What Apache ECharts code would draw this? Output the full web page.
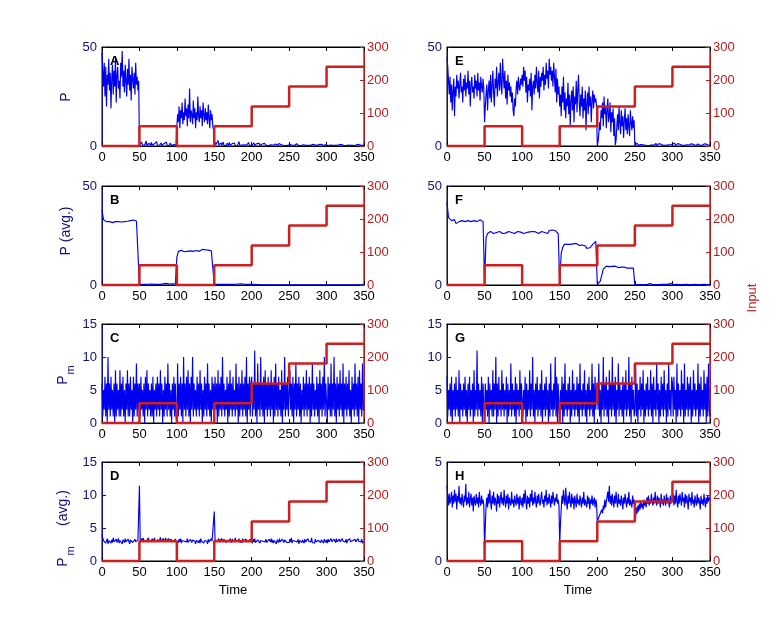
<!DOCTYPE html>
<html>
<head>
<meta charset="utf-8">
<script src="https://cdn.jsdelivr.net/npm/echarts@6/dist/echarts.min.js"></script>
<style>html,body{margin:0;padding:0;background:#fff;}#c{width:784px;height:631px;}</style>
</head>
<body>
<div id="c"></div>
<script>
// ---- Data: each series is sampled evenly over t = 0..350 ----
const T_END = 350;
const xTicks = [0, 50, 100, 150, 200, 250, 300, 350];
const inputTime = [0, 50, 100, 150, 200, 250, 300, 350];
const inputValue = [0, 60, 0, 60, 120, 180, 240, 240];

// A: P (1 sample per time unit)
const pA = [
47,38,30,42,25,40,20,36,31,44,28,37,19,34,41,26,38,30,45,22,36,40,29,33,24,42,35,48,30,38,27,41,33,25,39,31,44,28,36,23,40,34,29,37,26,42,31,35,28,33,
0.5,1.2,0.3,2.0,0.6,0.2,1.5,0.4,0.8,2.5,0.3,0.9,0.2,1.4,0.5,0.3,1.8,0.4,0.7,0.2,1.1,0.3,0.6,2.2,0.4,0.2,1.0,0.5,0.3,1.6,0.2,0.8,0.4,1.3,0.3,0.6,2.0,0.2,0.9,0.4,0.3,1.5,0.5,0.2,1.1,0.4,0.7,0.3,1.2,0.5,
10,16,12,20,9,18,14,22,11,17,13,24,15,19,10,21,14,29,12,18,16,11,23,14,19,9,17,13,25,15,12,20,14,18,10,22,16,12,19,13,17,11,21,14,9,18,13,16,10,8,
0.4,2.0,0.6,1.2,0.3,2.8,0.5,1.0,0.2,1.6,0.4,0.8,2.0,0.3,1.1,0.5,0.2,1.4,0.6,0.3,1.8,0.4,0.9,0.2,1.2,0.5,0.3,1.5,0.2,0.7,1.0,0.3,0.6,2.2,0.4,0.2,0.9,0.5,1.3,0.3,0.6,0.2,1.1,0.4,0.8,0.3,1.7,0.2,0.5,1.0,
0.3,1.0,0.2,1.6,0.4,0.7,0.2,1.2,0.5,0.3,1.4,0.2,0.8,0.3,1.0,0.2,0.6,1.3,0.3,0.5,0.2,1.1,0.4,0.3,0.9,0.2,0.6,1.2,0.3,0.4,0.8,0.2,1.0,0.3,0.5,0.2,1.3,0.4,0.3,0.7,0.2,0.9,0.4,0.3,1.1,0.2,0.5,0.8,0.3,0.4,
0.2,0.8,0.3,1.2,0.4,0.2,0.9,0.3,0.6,0.2,1.1,0.3,0.5,0.2,0.8,0.4,0.2,1.0,0.3,0.6,0.2,0.7,0.3,0.2,0.9,0.4,0.2,1.1,0.3,0.5,0.2,0.8,0.4,0.3,0.6,0.2,1.0,0.3,0.4,0.2,0.7,0.3,0.5,0.9,0.2,0.4,0.3,0.8,0.2,0.6,
0.3,0.6,0.2,1.0,0.3,0.5,0.2,0.8,0.3,0.2,0.7,0.4,0.2,0.9,0.3,0.5,0.2,0.6,0.3,0.2,0.8,0.3,0.5,0.2,0.7,0.4,0.2,0.9,0.3,0.5,0.2,0.6,0.3,1.0,0.2,0.4,0.3,0.7,0.2,0.5,0.3,0.8,0.2,0.4,0.6,0.2,0.9,0.3,0.5,0.2,
0.4];

// B: P (avg.) (1 sample per 2 time units)
const pB = [
38,33,32.5,32,33,32,32.5,31.5,32.5,32,33,32,32.5,31.8,32.6,32,33,32.2,31.8,32.5,32,32.8,32,32.3,31.5,
0.2,0.8,0.4,0.6,0.3,0.7,0.4,0.6,0.5,0.8,0.3,0.6,0.4,0.7,0.3,0.5,0.6,0.4,0.8,0.3,0.5,0.4,0.6,0.3,0.5,
14,17,16.5,17.5,17,16.8,17.5,17,18,17.2,17.6,17,18,17.4,17.8,17,17.6,18,17.3,17.8,17.2,17.6,17,17.3,16.8,
0.3,0.6,0.4,0.5,0.3,0.7,0.4,0.5,0.3,0.6,0.4,0.5,0.3,0.6,0.4,0.3,0.5,0.4,0.6,0.3,0.4,0.5,0.3,0.4,0.3,
0.2,0.3,0.1,0.2,0.1,0.2,0.1,0.1,0.2,0.1,0.1,0.1,0.2,0.1,0.1,0.1,0.1,0.1,0.1,0.1,0.1,0.1,0.1,0.1,0.1,
0.05,0.05,0.05,0.05,0.05,0.05,0.05,0.05,0.05,0.05,0.05,0.05,0.05,0.05,0.05,0.05,0.05,0.05,0.05,0.05,0.05,0.05,0.05,0.05,0.05,
0.05,0.05,0.05,0.05,0.05,0.05,0.05,0.05,0.05,0.05,0.05,0.05,0.05,0.05,0.05,0.05,0.05,0.05,0.05,0.05,0.05,0.05,0.05,0.05,0.05,
0.05];

// C: Pm (1 sample per time unit)
const pC = [
6,1,5,2,7,1,6,0,10,2,6,1,7,2,5,1,6,0,8,1,6,2,5,1,8,1,6,2,7,1,5,0,6,2,8,1,6,1,7,2,5,0,7,1,6,2,9,1,6,2,
6,1,7,2,5,1,6,0,7,2,8,1,6,2,5,1,6,1,7,0,5,2,6,1,7,2,6,1,8,2,6,0,5,1,7,2,6,1,9,2,6,1,5,0,6,2,7,1,6,1,
0,9,1,6,2,7,1,6,0,10,2,6,1,7,2,8,1,6,0,7,2,10,1,6,2,5,1,7,2,6,1,8,2,6,0,5,1,7,2,6,1,9,2,6,1,5,0,7,2,6,
1,7,2,6,0,8,1,6,2,7,1,10,2,6,1,5,2,7,0,6,1,8,2,6,1,7,2,5,1,9,2,6,0,7,1,6,2,8,1,6,2,7,1,10,0,6,2,7,1,6,
7,1,6,2,11,1,6,0,9,2,6,1,10,2,6,1,7,0,8,2,6,1,7,2,6,1,8,2,6,0,7,1,9,2,6,1,7,2,5,1,8,0,6,2,10,1,6,2,7,1,
1,8,2,6,1,7,0,6,2,9,1,6,2,7,1,6,0,5,2,7,1,6,2,8,1,6,2,7,0,6,1,9,2,6,1,5,2,7,1,6,0,8,2,6,1,7,2,10,1,6,
6,0,7,2,6,1,9,1,6,2,10,1,6,0,7,2,6,1,8,2,6,1,9,0,6,2,7,1,6,2,8,1,5,0,7,2,6,1,9,2,6,1,7,0,8,2,6,1,9,2,
2];

// D: Pm (avg.) (1 sample per time unit)
const pD = [
4.0,3.5,3.1,2.8,3.3,2.7,3.0,3.4,2.6,3.1,2.9,3.3,2.7,3.2,2.8,3.5,2.9,3.1,2.6,3.3,2.8,3.0,3.4,2.7,3.1,2.9,3.3,2.6,3.2,3.0,2.8,3.4,2.9,3.1,2.7,3.3,3.0,2.6,3.2,2.9,3.4,2.8,3.1,2.7,3.3,2.9,3.0,2.6,3.2,2.9,
11.4,3.3,2.9,3.4,3.0,3.5,3.1,2.8,3.4,3.0,3.3,2.9,3.5,3.1,2.8,3.3,3.0,3.4,2.9,3.2,3.5,3.0,3.3,2.8,3.2,3.4,2.9,3.1,3.6,3.0,3.3,2.8,3.4,3.1,2.9,3.5,3.0,3.2,2.8,3.4,3.1,2.9,3.3,3.0,3.5,2.9,3.2,3.0,3.3,2.9,
2.7,3.2,2.8,3.3,2.9,3.4,2.7,3.1,2.8,3.3,3.0,2.7,3.2,2.9,3.4,2.8,3.1,2.7,3.3,3.0,2.8,3.2,2.9,3.4,3.0,2.6,3.1,2.9,3.3,2.8,3.2,2.7,3.4,3.0,2.9,3.3,2.7,3.1,2.8,3.2,3.0,2.6,3.3,2.9,3.1,2.8,3.4,3.0,2.7,3.1,
7.5,3.2,2.9,3.3,3.0,2.7,3.4,3.0,3.2,2.8,3.4,3.1,2.9,3.3,3.0,3.5,2.8,3.2,3.0,3.3,2.9,3.4,3.1,2.8,3.3,3.0,3.2,2.9,3.5,3.1,2.8,3.3,3.0,3.4,2.9,3.2,3.1,2.8,3.4,3.0,3.2,2.9,3.3,3.1,3.5,2.9,3.2,3.0,3.3,3.1,
3.0,2.7,3.3,2.9,3.4,2.8,3.1,2.6,3.2,2.9,3.3,2.7,3.1,2.8,3.4,3.0,2.7,3.2,2.9,3.3,2.8,3.1,2.7,3.3,3.0,2.9,3.4,2.8,3.2,2.7,3.1,2.9,3.3,2.6,3.2,3.0,2.8,3.4,2.9,3.1,2.7,3.3,3.0,2.8,3.2,2.9,3.5,2.8,3.1,3.0,
2.8,3.3,2.9,3.5,2.7,3.1,2.8,3.4,3.0,2.7,3.2,2.9,3.3,2.6,3.1,2.9,3.4,2.8,3.2,3.0,2.7,3.3,2.9,3.1,2.8,3.4,3.0,2.7,3.2,2.9,3.5,2.8,3.1,3.0,2.7,3.3,2.9,3.2,2.6,3.1,3.0,3.4,2.8,3.2,2.9,3.1,2.7,3.3,3.0,2.8,
3.2,2.7,3.3,2.9,3.1,2.6,3.4,2.9,3.2,2.7,3.3,3.0,2.8,3.4,2.9,3.1,2.6,3.3,2.9,3.2,2.7,3.4,3.0,2.8,3.2,2.9,3.3,2.7,3.1,3.0,2.8,3.4,2.9,3.2,2.6,3.1,3.0,2.8,3.3,2.9,3.1,2.7,3.4,3.0,2.8,3.2,2.9,3.3,2.7,3.0,
2.9];

// E: P (1 sample per time unit)
const pE = [
45,40,33,26,35,22,31,18,28,34,15,30,25,36,29,33,24,31,37,27,30,22,34,28,36,25,32,29,38,26,33,20,31,35,27,30,24,36,29,33,25,37,28,32,23,35,30,27,34,29,
12,20,26,31,18,28,33,24,36,22,30,38,27,20,34,29,40,25,32,37,28,42,31,26,44,35,29,38,24,33,21,36,28,32,25,30,22,27,18,15,24,20,29,33,26,35,30,28,34,31,
36,30,40,33,38,27,35,22,31,28,34,25,37,18,30,33,26,36,29,40,32,27,38,24,35,30,37,33,40,28,36,31,42,34,38,29,44,36,40,33,38,30,42,35,27,39,22,34,26,30,
20,26,15,30,22,35,18,27,14,24,20,32,16,26,10,23,28,18,30,12,25,21,33,17,28,36,22,15,26,20,30,14,24,18,28,8,22,27,16,30,20,25,12,23,28,19,26,22,24,20,
0.5,2,6,12,8,18,14,22,10,25,16,20,9,18,24,12,15,22,7,17,12,19,5,14,0.5,3,10,16,8,20,12,6,18,10,15,4,13,19,8,14,6,16,10,5,18,12,8,15,9,13,
0.3,0.8,0.2,1.4,0.5,0.3,1.0,0.2,0.7,1.5,0.3,0.6,0.2,1.2,0.4,0.3,0.9,0.2,1.1,0.5,0.3,1.3,0.2,0.6,0.4,1.0,0.3,0.5,1.4,0.2,0.7,0.3,1.2,0.4,0.2,0.9,0.5,1.3,0.3,0.2,0.8,0.4,1.0,0.3,0.6,1.2,0.2,0.5,0.9,0.3,
1.0,0.3,0.5,1.4,0.2,0.7,0.3,1.2,0.4,0.2,0.9,0.5,1.3,0.3,0.2,0.8,0.4,1.0,0.3,0.6,1.2,0.2,0.5,0.9,0.3,1.1,0.4,0.2,0.8,0.5,1.3,0.3,0.6,0.2,1.0,0.4,0.7,0.3,1.2,0.2,0.5,0.9,0.3,1.1,0.4,0.2,0.8,0.6,1.0,0.3,
0.6];

// F: P (avg.) (1 sample per 2 time units)
const pF = [
42,34,33,32.5,32,33,31,30.5,32,33,32.5,33.5,32,33,32.5,33,32,33,32.5,33,32,32.5,33,32.5,32,
2,24,26,26.5,27,26.5,26,27,26.5,26,27,26.5,26,26.8,26.2,26.5,27,26,26.5,26.8,26,26.5,27,26.2,26.7,
26.5,26,27,26.5,26,26.8,26.2,27,26.5,26.8,26.3,26,26.5,27,26,26.5,26.8,26,27.5,26.5,27.8,27,27.5,26.5,26,
1,16,19,20.5,21,20.5,21,20.5,21.2,20.8,20,21,20.5,20,20.8,20.2,19.5,19.8,18.5,19.5,18.8,19.5,20.5,21,22,
0.3,0.5,2,5,8,9,9.5,10,9.3,9.8,9.4,9,9.5,9.2,8.8,9.3,9,8.6,9,8.8,8.5,8.9,8.6,8.8,8.5,
0.2,0.3,0.2,0.3,0.2,0.3,0.2,0.3,0.2,0.3,0.8,0.3,0.2,0.3,0.2,0.3,0.2,0.2,0.3,0.2,0.3,0.2,0.3,0.2,0.8,
0.3,0.2,0.2,0.3,0.2,0.2,0.3,0.2,0.2,0.3,0.2,0.2,0.3,0.2,0.2,0.3,0.2,0.2,0.3,0.2,0.2,0.3,0.2,0.2,0.3,
0.2];

// G: Pm (1 sample per time unit)
const pG = [
7,1,5,2,6,1,7,0,5,2,6,1,7,2,5,1,8,0,6,2,5,1,6,2,7,1,5,0,6,2,7,1,5,2,6,0,8,1,5,2,11,1,6,2,5,1,7,0,6,2,
1,6,2,5,1,7,0,6,2,5,1,8,1,6,2,10,0,6,1,7,2,5,1,8,2,6,1,5,2,7,0,6,1,5,2,9,1,6,2,5,1,7,0,6,2,5,1,8,2,6,
6,1,5,2,7,0,6,1,5,2,8,1,6,2,10,1,5,0,6,2,7,1,5,2,6,1,8,0,5,2,6,1,7,2,5,0,6,1,9,2,5,1,6,2,10,1,7,0,6,2,
1,5,2,7,0,6,1,9,2,5,1,6,2,7,0,5,1,8,2,6,1,5,2,7,1,6,0,9,2,5,1,6,2,8,1,5,0,6,2,7,1,5,2,9,1,6,0,7,2,5,
6,2,9,1,5,0,6,2,10,1,6,2,7,1,5,0,8,2,6,1,10,2,6,1,7,0,5,2,9,1,6,2,5,1,7,0,6,2,8,1,5,2,10,1,6,0,7,2,5,1,
2,9,1,6,0,5,2,7,1,6,2,8,0,5,1,6,2,7,1,5,2,8,1,6,0,7,2,5,1,9,2,6,0,5,1,7,2,6,1,8,2,5,0,6,1,9,2,5,1,7,
6,1,7,2,5,0,9,1,6,2,5,1,8,2,6,0,9,1,5,2,7,1,6,2,7,0,5,1,8,2,6,1,5,2,9,0,6,1,7,2,5,1,8,2,6,0,7,1,9,2,
1];

// H: Pm (avg.) (1 sample per time unit)
const pH = [
3.8,3.3,2.8,3.4,2.9,3.1,3.5,2.7,3.3,2.9,3.6,3.0,3.4,2.6,3.3,3.0,3.8,2.9,3.2,2.8,3.4,3.0,2.7,3.3,3.0,3.9,2.8,3.2,2.9,3.5,2.7,3.1,3.4,2.8,3.2,2.5,3.3,3.0,2.8,3.4,2.9,3.2,2.7,3.5,3.0,2.8,3.3,2.9,3.1,2.8,
0.6,1.8,2.8,3.2,2.7,3.4,2.9,3.6,3.0,2.6,3.3,2.9,3.5,2.8,3.2,3.0,2.5,3.4,2.9,3.3,2.7,3.1,3.5,2.9,3.2,2.8,3.6,3.0,2.7,3.3,2.9,3.4,2.6,3.2,3.0,2.8,3.5,2.9,3.1,2.7,3.3,3.0,2.8,3.4,2.9,3.2,2.6,3.3,3.0,2.8,
3.2,2.7,3.4,2.9,3.6,3.0,2.6,3.3,2.9,3.2,2.7,3.4,3.0,3.6,2.8,3.2,2.9,3.5,3.0,2.7,3.3,2.9,3.4,3.0,2.8,3.2,3.5,2.9,3.1,2.7,3.3,3.0,3.6,2.8,3.2,2.9,3.4,3.0,2.7,3.3,2.9,3.5,3.1,2.8,3.2,3.0,3.4,2.9,3.1,2.8,
0.8,1.9,2.6,3.3,2.9,3.6,3.1,2.8,3.7,3.0,2.6,3.3,2.9,3.5,3.0,2.7,3.4,2.9,3.2,2.6,3.3,3.0,2.7,3.4,2.9,3.1,2.8,3.3,3.0,2.7,3.2,2.9,3.5,2.8,3.1,3.0,2.7,3.3,2.9,3.2,2.6,3.1,2.9,3.3,2.8,3.0,3.2,2.7,3.1,2.9,
2.0,1.9,2.2,2.1,2.4,2.3,2.6,2.4,2.8,2.6,3.1,2.7,3.0,2.9,3.5,3.0,3.8,2.9,3.3,2.8,3.4,3.0,2.7,3.3,2.9,3.5,3.0,2.7,3.4,2.9,3.1,2.8,3.3,3.0,2.6,3.2,2.9,3.4,3.0,2.7,3.2,2.9,3.5,2.8,3.1,3.0,2.7,3.3,2.9,3.1,
2.5,2.2,2.7,2.4,2.8,2.5,2.9,2.6,3.0,2.7,2.9,2.6,3.1,2.8,3.0,2.7,3.2,2.9,3.3,2.8,3.1,2.9,3.4,3.0,2.8,3.2,2.9,3.5,3.0,2.8,3.3,2.9,3.2,3.0,2.7,3.4,2.9,3.1,2.8,3.3,3.0,2.8,3.4,2.9,3.2,3.0,2.7,3.3,2.9,3.1,
3.0,3.4,2.8,3.3,2.9,3.6,3.0,2.7,3.3,2.9,3.4,3.1,2.8,3.5,3.0,3.2,2.7,3.4,2.9,3.3,3.0,2.6,3.4,3.0,3.2,2.8,3.5,2.9,3.1,2.7,3.3,3.0,2.8,3.4,2.9,3.2,3.0,2.6,3.3,2.9,3.1,2.8,3.4,3.0,2.7,3.2,2.9,3.3,3.0,3.2,
3.1];

const panelLetters = ['A','B','C','D','E','F','G','H'];
const leftAxisMax = [50, 50, 15, 15, 50, 50, 15, 5];
const leftAxisInterval = [50, 50, 5, 5, 50, 50, 5, 5];
const rightAxisMax = 300;
const rightAxisInterval = 100;
const panelData = [pA, pB, pC, pD, pE, pF, pG, pH];

// ---- Layout / style ----
const colLeft = [102, 447];
const colWidth = [262, 263];
const rowTop = [47, 186, 324, 462];
const plotH = 99;
const BLUE = '#0000f0';
const NAVY = '#10107a';
const RED = '#cc2020';
const DARKRED = '#b01e1e';
const FONT = 'Liberation Sans, Arial, sans-serif';

const grids = [], xAxes = [], yAxes = [], series = [], graphics = [];

panelData.forEach((arr, i) => {
  const col = i < 4 ? 0 : 1;
  const row = i % 4;
  const dt = T_END / (arr.length - 1);
  grids.push({left: colLeft[col], top: rowTop[row], width: colWidth[col], height: plotH,
    show: true, borderColor: '#000', borderWidth: 1, backgroundColor: 'transparent'});
  const xBase = {gridIndex: i, type: 'value', min: xTicks[0], max: xTicks[xTicks.length - 1], interval: 50,
    axisLine: {onZero: false, lineStyle: {color: '#000', width: 1}},
    axisTick: {inside: true, length: 4, lineStyle: {color: '#000'}},
    splitLine: {show: false}};
  xAxes.push(Object.assign({}, xBase, {position: 'bottom',
    axisLabel: {color: '#000', fontSize: 13, fontFamily: FONT, margin: 5}}));
  xAxes.push(Object.assign({}, xBase, {position: 'top', axisLabel: {show: false}}));
  yAxes.push({gridIndex: i, type: 'value', position: 'left', min: 0, max: leftAxisMax[i], interval: leftAxisInterval[i],
    axisLine: {show: true, onZero: false, lineStyle: {color: NAVY, width: 1}},
    axisTick: {show: true, inside: true, length: 4, lineStyle: {color: NAVY}},
    axisLabel: {color: NAVY, fontSize: 13, fontFamily: FONT, margin: 5},
    splitLine: {show: false}});
  yAxes.push({gridIndex: i, type: 'value', position: 'right', min: 0, max: rightAxisMax, interval: rightAxisInterval,
    axisLine: {show: true, onZero: false, lineStyle: {color: DARKRED, width: 1}},
    axisTick: {show: true, inside: true, length: 4, lineStyle: {color: DARKRED}},
    axisLabel: {color: DARKRED, fontSize: 13, fontFamily: FONT, margin: 3},
    splitLine: {show: false}});
  series.push({type: 'line', xAxisIndex: 2 * i, yAxisIndex: 2 * i, showSymbol: false, silent: true,
    lineStyle: {color: BLUE, width: 1.15}, z: 2, clip: true, sampling: null,
    data: arr.map((v, k) => [k * dt, v])});
  series.push({type: 'line', xAxisIndex: 2 * i, yAxisIndex: 2 * i + 1, showSymbol: false, silent: true,
    step: 'end', lineStyle: {color: RED, width: 2.5}, z: 3, clip: false,
    data: inputTime.map((t, k) => [t, inputValue[k]])});
  graphics.push({type: 'text', left: colLeft[col] + 8, top: rowTop[row] + 8, z: 10,
    style: {text: panelLetters[i], fill: '#000', font: 'bold 13px ' + FONT}});
});

function rotText(x, y, text, size, color) {
  return {type: 'text', x: x, y: y, rotation: Math.PI / 2, z: 10,
    style: {text: text, fill: color, font: size + 'px ' + FONT, align: 'center', verticalAlign: 'middle'}};
}
graphics.push(rotText(66, 97, 'P', 14, NAVY));
graphics.push(rotText(66, 231, 'P (avg.)', 14, NAVY));
graphics.push(rotText(63, 380, 'P', 14, NAVY));
graphics.push(rotText(71, 370, 'm', 11, NAVY));
graphics.push(rotText(63, 562, 'P', 14, NAVY));
graphics.push(rotText(71, 551, 'm', 11, NAVY));
graphics.push(rotText(63, 508, '(avg.)', 14, NAVY));
graphics.push(rotText(752, 298, 'Input', 13, RED));
graphics.push({type: 'text', x: 233, y: 590, z: 10,
  style: {text: 'Time', fill: '#000', font: '13px ' + FONT, align: 'center', verticalAlign: 'middle'}});
graphics.push({type: 'text', x: 578, y: 590, z: 10,
  style: {text: 'Time', fill: '#000', font: '13px ' + FONT, align: 'center', verticalAlign: 'middle'}});

const chart = echarts.init(document.getElementById('c'), null, {renderer: 'canvas'});
chart.setOption({
  animation: false,
  backgroundColor: '#fff',
  grid: grids, xAxis: xAxes, yAxis: yAxes, series: series, graphic: graphics
});
</script>
</body>
</html>
